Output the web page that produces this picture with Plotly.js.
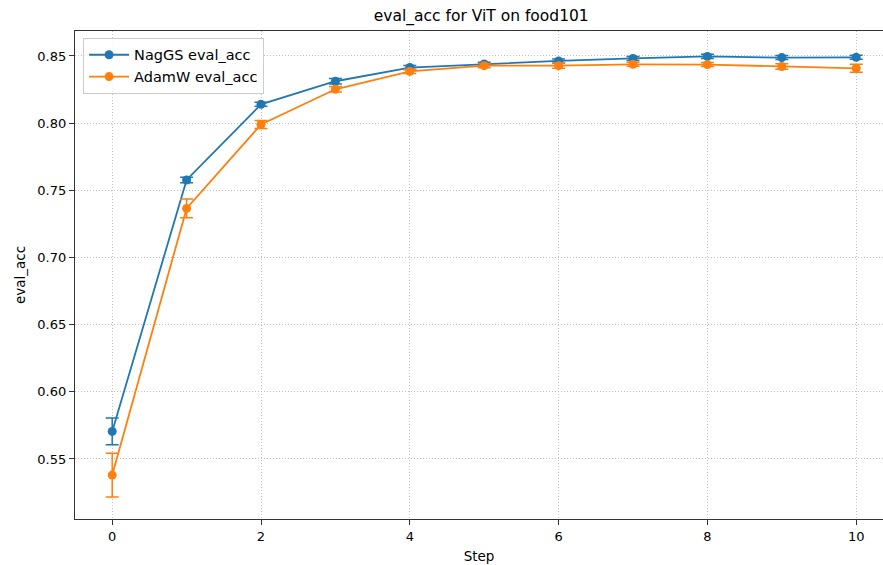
<!DOCTYPE html>
<html>
<head>
<meta charset="utf-8">
<script src="https://cdn.plot.ly/plotly-3.0.1.min.js"></script>
<style>html,body{margin:0;padding:0;background:#fff;}#chart{width:883px;height:565px;}</style>
</head>
<body>
<div id="chart"></div>
<script>
const steps = [0, 1, 2, 3, 4, 5, 6, 7, 8, 9, 10];
const nagMean = [0.5705, 0.7577, 0.8140, 0.8312, 0.8414, 0.8441, 0.8463, 0.8482, 0.8497, 0.8488, 0.8490];
const nagErr  = [0.0100, 0.0020, 0.0015, 0.0020, 0.0015, 0.0012, 0.0015, 0.0015, 0.0015, 0.0015, 0.0015];
const adamMean = [0.5380, 0.7365, 0.7990, 0.8252, 0.8385, 0.8428, 0.8428, 0.8438, 0.8436, 0.8422, 0.8408];
const adamErr  = [0.0163, 0.0070, 0.0030, 0.0020, 0.0015, 0.0015, 0.0020, 0.0015, 0.0015, 0.0020, 0.0030];
const seriesNames = ["NagGS eval_acc", "AdamW eval_acc"];
const colors = ["#1f77b4", "#ff7f0e"];

function trace(name, y, err, color) {
  return {
    x: steps, y: y, name: name, type: "scatter", mode: "lines+markers",
    line: {color: color, width: 1.8},
    marker: {color: color, size: 9, symbol: "circle"},
    error_y: {type: "data", array: err, visible: true, color: color, thickness: 1.5, width: 6.5}
  };
}

const data = [
  trace(seriesNames[0], nagMean, nagErr, colors[0]),
  trace(seriesNames[1], adamMean, adamErr, colors[1])
];

const gridStyle = {showgrid: true, gridcolor: "#c0c0c0", griddash: "1px,2px", gridwidth: 1};
const layout = {
  width: 883, height: 565,
  margin: {l: 75, r: 0, t: 31, b: 46},
  paper_bgcolor: "#ffffff", plot_bgcolor: "#ffffff",
  font: {family: "DejaVu Sans", size: 13, color: "#000"},
  title: {text: "eval_acc for ViT on food101", font: {size: 15.5, color: "#000"}, x: 0.545, xanchor: "center", y: 0.972, yanchor: "middle"},
  xaxis: Object.assign({
    range: [-0.5, 10.36], tickvals: [0, 2, 4, 6, 8, 10], ticks: "outside", ticklen: 5, tickcolor: "#333",
    showline: true, linecolor: "#333", linewidth: 1.2, mirror: true, zeroline: false,
    title: {text: "Step", font: {size: 13.5}, standoff: 8}
  }, gridStyle),
  yaxis: Object.assign({
    range: [0.5053, 0.8686], tickvals: [0.55, 0.60, 0.65, 0.70, 0.75, 0.80, 0.85], tickformat: ".2f",
    ticks: "outside", ticklen: 5, tickcolor: "#333",
    showline: true, linecolor: "#333", linewidth: 1.2, mirror: false, zeroline: false,
    title: {text: "eval_acc", font: {size: 13.5}, standoff: 8}
  }, gridStyle),
  legend: {x: 0.01, y: 0.986, xanchor: "left", yanchor: "top", bgcolor: "rgba(255,255,255,0.85)",
           bordercolor: "#cccccc", borderwidth: 1, font: {size: 14.5}, itemwidth: 40},
  showlegend: true
};

Plotly.newPlot("chart", data, layout, {displayModeBar: false, staticPlot: true});
</script>
</body>
</html>
